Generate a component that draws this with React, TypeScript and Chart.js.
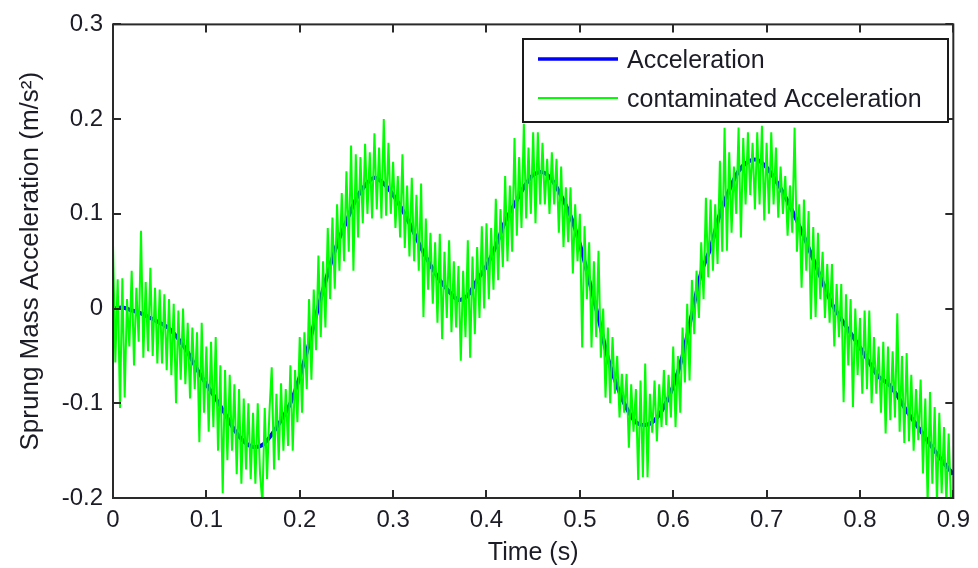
import React, { useEffect, useRef } from "react";
import { Chart, registerables } from "chart.js";

Chart.register(...registerables);

// Clean response, sampled every 0.01 s from 0 to 0.9 s
const accelStep = 0.01;
const accelValues = [
  0.0, 0.001, -0.002, -0.005, -0.01, -0.015, -0.021, -0.032, -0.046, -0.064,
  -0.08, -0.095, -0.111, -0.128, -0.14, -0.146, -0.144, -0.133, -0.118, -0.1,
  -0.072, -0.037, 0.002, 0.037, 0.068, 0.092, 0.115, 0.13, 0.138, 0.132,
  0.12, 0.104, 0.085, 0.064, 0.046, 0.03, 0.018, 0.009, 0.014, 0.03,
  0.045, 0.066, 0.092, 0.11, 0.128, 0.141, 0.144, 0.136, 0.119, 0.098,
  0.068, 0.03, -0.01, -0.052, -0.082, -0.105, -0.12, -0.123, -0.118, -0.104,
  -0.082, -0.05, -0.006, 0.038, 0.064, 0.1, 0.125, 0.145, 0.155, 0.157,
  0.149, 0.135, 0.118, 0.098, 0.076, 0.052, 0.028, 0.005, -0.011, -0.026,
  -0.041, -0.057, -0.072, -0.079, -0.092, -0.108, -0.122, -0.136, -0.15, -0.163,
  -0.175,
];

// Measured (noisy) response, sampled every 0.0025 s from 0 to 0.9 s
const noisyStep = 0.0025;
const noisyValues = [
  0.068, -0.057, 0.031, -0.105,
  0.032, -0.094, 0.01, -0.04,
  0.04, -0.06, 0.022, -0.035,
  0.082, -0.052, 0.028, -0.045,
  0.043, -0.05, 0.022, -0.058,
  0.02, -0.058, 0.015, -0.065,
  0.01, -0.07, 0.005, -0.1,
  -0.002, -0.075, 0.0, -0.08,
  -0.015, -0.095, -0.02, -0.085,
  -0.025, -0.141, -0.015, -0.11,
  -0.04, -0.13, -0.035, -0.125,
  -0.03, -0.15, -0.06, -0.195,
  -0.065, -0.16, -0.07, -0.15,
  -0.08, -0.175, -0.085, -0.185,
  -0.095, -0.17, -0.1, -0.18,
  -0.11, -0.185, -0.1, -0.175,
  -0.205, -0.105, -0.18, -0.11,
  -0.062, -0.17, -0.09, -0.16,
  -0.079, -0.15, -0.085, -0.145,
  -0.06, -0.15, -0.065, -0.12,
  -0.03, -0.11, -0.025, -0.085,
  0.01, -0.075, 0.02, -0.044,
  0.056, -0.03, 0.05, -0.02,
  0.085, 0.01, 0.096, 0.021,
  0.11, 0.04, 0.122, 0.05,
  0.145, 0.06, 0.172, 0.04,
  0.163, 0.075, 0.16, 0.09,
  0.174, 0.1, 0.165, 0.095,
  0.185, 0.105, 0.17, 0.095,
  0.2, 0.098, 0.175, 0.1,
  0.155, 0.085, 0.14, 0.075,
  0.163, 0.064, 0.13, 0.055,
  0.138, 0.05, 0.12, 0.04,
  0.132, -0.009, 0.095, 0.02,
  0.08, 0.005, 0.07, -0.015,
  0.079, -0.032, 0.06, -0.01,
  0.072, -0.025, 0.05, -0.02,
  0.045, -0.055, 0.04, -0.03,
  0.072, -0.052, 0.055, -0.027,
  0.065, -0.01, 0.087, 0.0,
  0.09, 0.01, 0.085, 0.02,
  0.116, 0.03, 0.105, 0.044,
  0.14, 0.05, 0.13, 0.06,
  0.18, 0.077, 0.16, 0.085,
  0.195, 0.095, 0.17, 0.1,
  0.186, 0.09, 0.186, 0.11,
  0.175, 0.11, 0.158, 0.1,
  0.165, 0.11, 0.158, 0.08,
  0.15, 0.065, 0.128, 0.07,
  0.128, 0.037, 0.11, 0.05,
  0.1, -0.041, 0.087, 0.01,
  0.07, -0.041, 0.05, -0.03,
  0.061, -0.052, 0.0, -0.094,
  -0.02, -0.1, -0.03, -0.09,
  -0.05, -0.115, -0.069, -0.11,
  -0.069, -0.147, -0.08, -0.13,
  -0.085, -0.181, -0.076, -0.178,
  -0.058, -0.178, -0.09, -0.131,
  -0.076, -0.14, -0.08, -0.125,
  -0.065, -0.123, -0.07, -0.115,
  -0.04, -0.125, -0.05, -0.11,
  -0.02, -0.078, 0.005, -0.076,
  0.03, -0.027, 0.04, -0.01,
  0.07, 0.01, 0.117, 0.033,
  0.115, 0.04, 0.11, 0.047,
  0.156, 0.06, 0.191, 0.061,
  0.165, 0.08, 0.15, 0.1,
  0.191, 0.075, 0.18, 0.11,
  0.186, 0.12, 0.175, 0.105,
  0.186, 0.11, 0.193, 0.093,
  0.175, 0.1, 0.186, 0.11,
  0.17, 0.096, 0.15, 0.1,
  0.14, 0.077, 0.13, 0.08,
  0.191, 0.06, 0.11, 0.022,
  0.115, 0.04, 0.103, -0.011,
  0.086, -0.009, 0.08, 0.01,
  0.06, -0.01, 0.047, -0.015,
  0.047, -0.04, 0.026, -0.03,
  0.026, -0.099, 0.015, -0.06,
  0.01, -0.104, 0.0, -0.07,
  -0.01, -0.09, -0.002, -0.085,
  -0.002, -0.1, -0.03, -0.09,
  -0.04, -0.11, -0.035, -0.132,
  -0.04, -0.118, -0.045, -0.115,
  -0.005, -0.13, -0.05, -0.142,
  -0.047, -0.14, -0.07, -0.15,
  -0.085, -0.139, -0.075, -0.174,
  -0.095, -0.205, -0.088, -0.185,
  -0.104, -0.205, -0.11, -0.195,
  -0.125, -0.205, -0.132, -0.205,
  -0.205,
];

const xTickValues = [0, 0.1, 0.2, 0.3, 0.4, 0.5, 0.6, 0.7, 0.8, 0.9];
const xTickLabels = ["0", "0.1", "0.2", "0.3", "0.4", "0.5", "0.6", "0.7", "0.8", "0.9"];
const yTickValues = [-0.2, -0.1, 0, 0.1, 0.2, 0.3];
const yTickLabels = ["-0.2", "-0.1", "0", "0.1", "0.2", "0.3"];

const seriesNames = ["Acceleration", "contaminated Acceleration"];
const seriesColors = ["#0000ff", "#00ff00"];

const FONT = "'Liberation Sans', Arial, Helvetica, sans-serif";
const TEXT = "#1c1c26";
const AXIS = "#2a2a2a";

const labelFor = (values: number[], labels: string[], v: number) => {
  const i = values.findIndex((t) => Math.abs(t - v) < 1e-6);
  return i >= 0 ? labels[i] : "";
};

// Box around the axes, inward tick marks on all four sides, and the legend
const framePlugin = {
  id: "matlabFrame",
  afterDraw(chart: any) {
    const { ctx, chartArea: a, scales } = chart;
    const xs = scales.x;
    const ys = scales.y;
    const tick = 8;
    ctx.save();
    ctx.strokeStyle = AXIS;
    ctx.lineWidth = 2;
    ctx.beginPath();
    for (const v of xTickValues) {
      const px = Math.round(xs.getPixelForValue(v));
      ctx.moveTo(px, a.bottom);
      ctx.lineTo(px, a.bottom - tick);
      ctx.moveTo(px, a.top);
      ctx.lineTo(px, a.top + tick);
    }
    for (const v of yTickValues) {
      const py = Math.round(ys.getPixelForValue(v));
      ctx.moveTo(a.left, py);
      ctx.lineTo(a.left + tick, py);
      ctx.moveTo(a.right, py);
      ctx.lineTo(a.right - tick, py);
    }
    ctx.stroke();
    ctx.strokeRect(a.left, a.top, a.right - a.left, a.bottom - a.top);

    // legend
    const lx = 523;
    const ly = 39;
    const lw = 425;
    const lh = 83;
    ctx.fillStyle = "#ffffff";
    ctx.fillRect(lx, ly, lw, lh);
    ctx.strokeStyle = "#1a1a1a";
    ctx.lineWidth = 2;
    ctx.strokeRect(lx, ly, lw, lh);
    const rows = [59, 98];
    const widths = [3.5, 2];
    ctx.font = `25px ${FONT}`;
    ctx.textBaseline = "middle";
    ctx.textAlign = "left";
    rows.forEach((ry, i) => {
      ctx.strokeStyle = seriesColors[i];
      ctx.lineWidth = widths[i];
      ctx.beginPath();
      ctx.moveTo(538, ry);
      ctx.lineTo(618, ry);
      ctx.stroke();
      ctx.fillStyle = TEXT;
      ctx.fillText(seriesNames[i], 627, ry + 2);
    });
    ctx.restore();
  },
};

export default function App() {
  const canvasRef = useRef<HTMLCanvasElement | null>(null);

  useEffect(() => {
    const canvas = canvasRef.current;
    if (!canvas) return;
    const cleanPoints = accelValues.map((v, i) => ({ x: +(i * accelStep).toFixed(4), y: v }));
    const noisyPoints = noisyValues.map((v, i) => ({ x: +(i * noisyStep).toFixed(4), y: v }));

    const chart = new Chart(canvas, {
      type: "line",
      data: {
        datasets: [
          {
            label: seriesNames[0],
            data: cleanPoints,
            borderColor: seriesColors[0],
            borderWidth: 4,
            pointRadius: 0,
            tension: 0.3,
            order: 2,
          },
          {
            label: seriesNames[1],
            data: noisyPoints,
            borderColor: seriesColors[1],
            borderWidth: 2,
            pointRadius: 0,
            tension: 0,
            order: 1,
          },
        ],
      },
      options: {
        animation: false,
        responsive: false,
        devicePixelRatio: 1,
        layout: { padding: { top: 24, right: 18, left: 0, bottom: 0 } },
        plugins: {
          legend: { display: false },
          tooltip: { enabled: false },
        },
        scales: {
          x: {
            type: "linear",
            min: 0,
            max: 0.9,
            grid: { display: false, drawTicks: false },
            border: { display: false },
            ticks: {
              stepSize: 0.1,
              padding: 8,
              color: TEXT,
              font: { family: FONT, size: 24 },
              maxRotation: 0,
              callback: (v: any) => labelFor(xTickValues, xTickLabels, Number(v)),
            },
            title: {
              display: true,
              text: "Time (s)",
              color: TEXT,
              font: { family: FONT, size: 25 },
              padding: { top: 0, bottom: 0 },
            },
            afterFit: (scale: any) => {
              scale.height = 70;
            },
          },
          y: {
            type: "linear",
            min: -0.2,
            max: 0.3,
            grid: { display: false, drawTicks: false },
            border: { display: false },
            ticks: {
              stepSize: 0.1,
              padding: 10,
              color: TEXT,
              font: { family: FONT, size: 24 },
              callback: (v: any) => labelFor(yTickValues, yTickLabels, Number(v)),
            },
            title: {
              display: true,
              text: "Sprung Mass Acceleration (m/s²)",
              color: TEXT,
              font: { family: FONT, size: 26 },
              padding: { top: 15, bottom: 0 },
            },
            afterFit: (scale: any) => {
              scale.width = 113;
            },
          },
        },
      },
      plugins: [framePlugin],
    });
    return () => chart.destroy();
  }, []);

  return (
    <div style={{ position: "fixed", left: 0, top: 0, width: 978, height: 568, background: "#ffffff" }}>
      <canvas ref={canvasRef} width={978} height={568} style={{ width: 978, height: 568, display: "block" }} />
    </div>
  );
}
